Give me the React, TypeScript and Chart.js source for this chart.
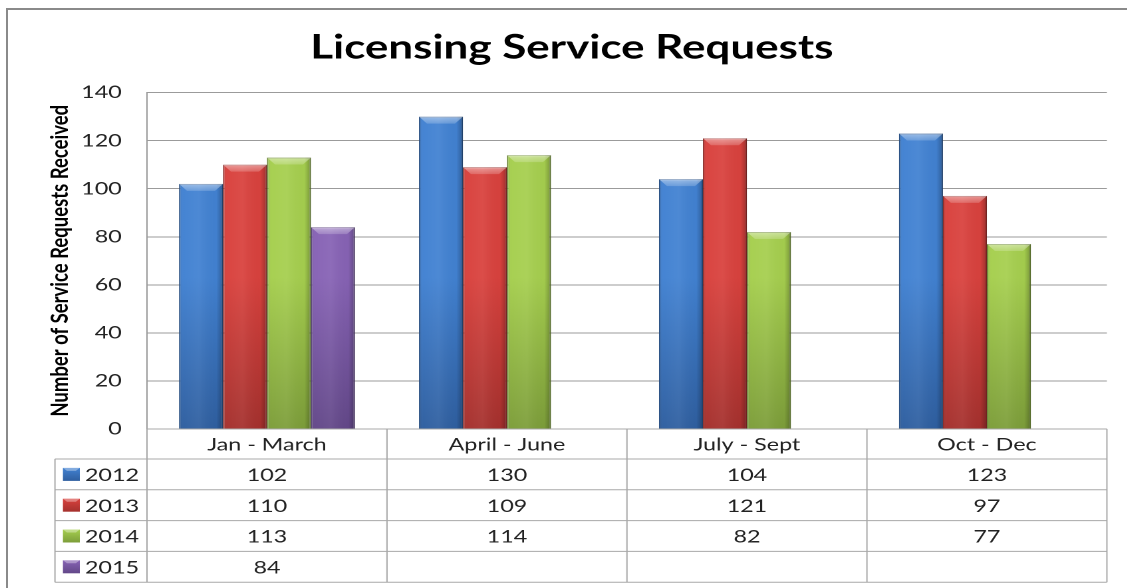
import React, { useEffect, useRef } from 'react';
import { Chart, registerables } from 'chart.js';

Chart.register(...registerables);

// ---------- data ----------
const CATEGORIES = ['Jan - March', 'April - June', 'July - Sept', 'Oct - Dec'];
const SERIES_NAMES = ['2012', '2013', '2014', '2015'];
const VALUES_2012 = [102, 130, 104, 123];
const VALUES_2013 = [110, 109, 121, 97];
const VALUES_2014 = [113, 114, 82, 77];
const VALUES_2015: (number | null)[] = [84, null, null, null];
const SERIES_VALUES = [VALUES_2012, VALUES_2013, VALUES_2014, VALUES_2015];
const Y_MIN = 0;
const Y_MAX = 140;
const Y_STEP = 20;
const TITLE = 'Licensing Service Requests';
const Y_TITLE = 'Number of Service Requests Received';

// ---------- styles ----------
const SERIES_TOP = ['#4282d2', '#d9423e', '#a6cf4f', '#8763b5'];
const SERIES_BOTTOM = ['#2f5fa0', '#a5312e', '#7d9e3a', '#634889'];
const SERIES_BORDER = ['#2b568f', '#982d2a', '#6f8d33', '#5b417f'];
const GRID = '#9b9b9b';
const TABLE_LINE = '#a8a8a8';
const TEXT = '#222222';
const FONT = 'Lato';

const STRETCH = 1.33;
const VIEW_W = 1119;
const CANVAS_W = VIEW_W / STRETCH;
const CANVAS_H = 578;
const Y_AXIS_W = 104.5;
const PAD_RIGHT = -6.6;
const RIGHT_GUTTER = CANVAS_W - 826.3 - PAD_RIGHT;
const HEADER_H = 30;
const ROW_H = 30.8;
const LEGEND_COL_W = 69.2;

function vGrad(chart: any, top: string, bottom: string) {
  const a = chart.chartArea;
  if (!a) return top;
  const g = chart.ctx.createLinearGradient(0, a.top, 0, a.bottom);
  g.addColorStop(0, top);
  g.addColorStop(0.55, top);
  g.addColorStop(1, bottom);
  return g;
}

const bevelPlugin = {
  id: 'bevel',
  afterDatasetsDraw(chart: any) {
    const ctx = chart.ctx;
    chart.data.datasets.forEach((ds: any, di: number) => {
      const meta = chart.getDatasetMeta(di);
      meta.data.forEach((el: any, i: number) => {
        if (ds.data[i] == null) return;
        const { x, y, base, width } = el.getProps(['x', 'y', 'base', 'width'], true);
        const l = x - width / 2;
        const r = x + width / 2;
        const h = base - y;
        ctx.save();
        const g = ctx.createLinearGradient(l, 0, r, 0);
        g.addColorStop(0, 'rgba(0,0,0,0.10)');
        g.addColorStop(0.1, 'rgba(255,255,255,0.02)');
        g.addColorStop(0.45, 'rgba(255,255,255,0.06)');
        g.addColorStop(0.85, 'rgba(0,0,0,0.02)');
        g.addColorStop(1, 'rgba(0,0,0,0.28)');
        ctx.fillStyle = g;
        ctx.fillRect(l, y, width, h);
        const bx = 6;
        const by = Math.min(7, h / 2);
        ctx.beginPath();
        ctx.moveTo(l, y);
        ctx.lineTo(r, y);
        ctx.lineTo(r - bx, y + by);
        ctx.lineTo(l + bx, y + by);
        ctx.closePath();
        const tg = ctx.createLinearGradient(0, y, 0, y + by);
        tg.addColorStop(0, 'rgba(255,255,255,0.45)');
        tg.addColorStop(1, 'rgba(255,255,255,0.18)');
        ctx.fillStyle = tg;
        ctx.fill();
        ctx.restore();
      });
    });
  },
};

const tablePlugin = {
  id: 'dataTable',
  afterDraw(chart: any) {
    const { ctx, chartArea: a } = chart;
    const xs = chart.scales.x;
    const n = CATEGORIES.length;
    const half = (xs.getPixelForValue(1) - xs.getPixelForValue(0)) / 2;
    const legendLeft = a.left - LEGEND_COL_W;
    const rowsTop = a.bottom + HEADER_H;
    const tableBottom = rowsTop + SERIES_NAMES.length * ROW_H;

    ctx.save();
    ctx.strokeStyle = TABLE_LINE;
    ctx.lineWidth = 1;
    ctx.beginPath();
    ctx.moveTo(a.left, a.bottom);
    ctx.lineTo(a.right, a.bottom);
    for (let k = 0; k <= SERIES_NAMES.length; k++) {
      const yy = rowsTop + k * ROW_H;
      ctx.moveTo(legendLeft, yy);
      ctx.lineTo(a.right, yy);
    }
    ctx.moveTo(legendLeft, rowsTop);
    ctx.lineTo(legendLeft, tableBottom);
    ctx.moveTo(a.left, a.bottom);
    ctx.lineTo(a.left, tableBottom);
    for (let i = 0; i < n; i++) {
      const xr = xs.getPixelForValue(i) + half;
      ctx.moveTo(xr, a.bottom);
      ctx.lineTo(xr, tableBottom);
    }
    ctx.stroke();

    ctx.fillStyle = TEXT;
    ctx.font = `17.5px ${FONT}`;
    ctx.textAlign = 'center';
    ctx.textBaseline = 'middle';
    for (let i = 0; i < n; i++) {
      const cx = xs.getPixelForValue(i);
      ctx.fillText(CATEGORIES[i], cx, a.bottom + HEADER_H / 2 + 1);
      SERIES_VALUES.forEach((vals, s) => {
        const v = vals[i];
        if (v == null) return;
        ctx.fillText(String(v), cx, rowsTop + s * ROW_H + ROW_H / 2 + 1);
      });
    }
    SERIES_NAMES.forEach((name, s) => {
      const cy = rowsTop + s * ROW_H + ROW_H / 2;
      const bx = legendLeft + 6;
      const bw = 12.7;
      const bh = 13;
      const by = cy - bh / 2;
      const g = ctx.createLinearGradient(0, by, 0, by + bh);
      g.addColorStop(0, SERIES_TOP[s]);
      g.addColorStop(1, SERIES_BOTTOM[s]);
      ctx.fillStyle = g;
      ctx.fillRect(bx, by, bw, bh);
      ctx.fillStyle = 'rgba(255,255,255,0.35)';
      ctx.beginPath();
      ctx.moveTo(bx, by);
      ctx.lineTo(bx + bw, by);
      ctx.lineTo(bx + bw - 3, by + 3);
      ctx.lineTo(bx + 3, by + 3);
      ctx.closePath();
      ctx.fill();
      ctx.fillStyle = TEXT;
      ctx.textAlign = 'left';
      ctx.fillText(name, legendLeft + 22.6, cy + 1);
    });
    ctx.restore();
  },
};

export default function App() {
  const ref = useRef<HTMLCanvasElement>(null);

  useEffect(() => {
    if (!ref.current) return;
    Chart.defaults.font.family = FONT;
    const chart = new Chart(ref.current, {
      type: 'bar',
      data: {
        labels: CATEGORIES,
        datasets: SERIES_NAMES.map((name, s) => ({
          label: name,
          data: SERIES_VALUES[s],
          backgroundColor: (c: any) => vGrad(c.chart, SERIES_TOP[s], SERIES_BOTTOM[s]),
          borderColor: SERIES_BORDER[s],
          borderWidth: 1,
          categoryPercentage: 0.733,
          barPercentage: 1,
        })),
      },
      options: {
        animation: false,
        responsive: true,
        maintainAspectRatio: false,
        devicePixelRatio: 2,
        layout: { padding: { left: 0, right: PAD_RIGHT, top: 0, bottom: CANVAS_H - 419 } },
        scales: {
          x: { display: false },
          y: {
            min: Y_MIN,
            max: Y_MAX,
            ticks: { stepSize: Y_STEP, padding: 19, color: TEXT, font: { size: 17.5, family: FONT } },
            grid: { color: GRID, drawTicks: false, lineWidth: 1 },
            border: { display: true, color: GRID },
            title: {
              display: true,
              text: Y_TITLE,
              color: '#000',
              font: { size: 18.5, weight: 'bold', family: FONT },
              padding: { top: 28, bottom: 0 },
            },
            afterFit: (s: any) => {
              s.width = Y_AXIS_W;
            },
          },
          gutter: {
            type: 'linear',
            position: 'right',
            display: true,
            ticks: { display: false },
            grid: { display: false, drawTicks: false },
            border: { display: false },
            afterFit: (s: any) => {
              s.width = RIGHT_GUTTER;
            },
          },
        },
        plugins: {
          legend: { display: false },
          tooltip: { enabled: false },
          title: {
            display: true,
            text: TITLE,
            color: '#000',
            font: { size: 33, weight: 'bold', family: FONT },
            padding: { top: 18, bottom: 25 },
          },
        },
      },
      plugins: [bevelPlugin, tablePlugin],
    } as any);
    return () => chart.destroy();
  }, []);

  return (
    <div
      style={{
        position: 'fixed',
        left: 6,
        top: 8,
        width: 1121,
        height: 580,
        borderLeft: '2px solid #8a8a8a',
        borderTop: '2px solid #8a8a8a',
        boxSizing: 'border-box',
        background: '#fff',
        overflow: 'hidden',
      }}
    >
      <div
        style={{
          width: CANVAS_W,
          height: CANVAS_H,
          transform: `scaleX(${STRETCH})`,
          transformOrigin: '0 0',
        }}
      >
        <canvas ref={ref} />
      </div>
    </div>
  );
}
